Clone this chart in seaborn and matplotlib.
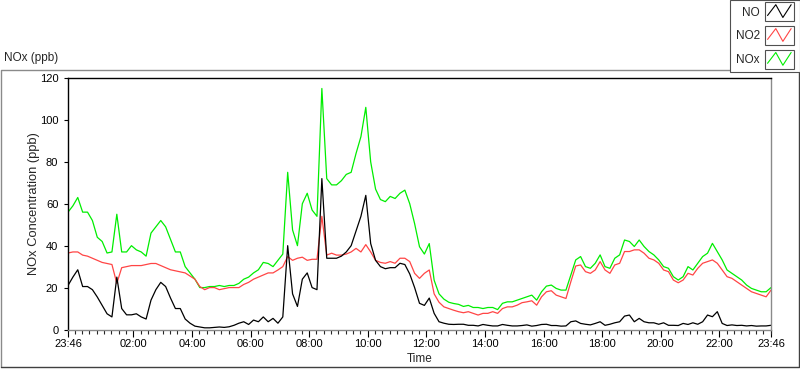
import numpy as np
import pandas as pd
import matplotlib
matplotlib.use('Agg')
import matplotlib.pyplot as plt
import matplotlib.dates as mdates
from matplotlib.patches import Rectangle
from matplotlib.lines import Line2D
from matplotlib.legend_handler import HandlerBase
import seaborn as sns

# readings every 10 min, starting 23:46
start_time = '2000-01-01 23:46'

no = [21, 25, 28.5, 20.5, 20.5, 19, 15.5, 11.5, 7.5, 6,
      25, 10, 7, 7, 7.5, 6, 5, 14, 19, 22.5,
      20.5, 15, 10, 10, 5, 3, 1.6, 1.2, 0.8, 0.8,
      1, 1.2, 1, 1.3, 2, 3, 3.7, 2.4, 4.5, 3.7,
      6, 3.7, 5.3, 3, 6, 40, 17, 11, 24, 27,
      20, 19, 72, 34, 34, 34, 35, 37, 40, 47,
      54, 64, 41, 33, 30, 29, 29.5, 29.5, 31.6, 31,
      26.5, 20, 12.5, 11.5, 15, 7.7, 3.7, 3, 2.5, 2.4,
      2.5, 2.5, 2, 2, 1.7, 2.4, 2, 1.7, 1.7, 2.4,
      2, 1.7, 1.7, 1.9, 2.2, 1.6, 1.9, 2.4, 2.5, 1.9,
      1.9, 1.6, 1.7, 3.7, 4.1, 2.9, 2.5, 2.2, 2.9, 3.7,
      2, 2.5, 3.2, 3.7, 6.4, 6.9, 3.7, 5.3, 3.7, 3.2,
      3.2, 2.5, 3.2, 2, 2, 1.9, 2.9, 2.4, 3.2, 2.5,
      3.7, 6.9, 6.1, 8.5, 2.9, 1.9, 2.2, 1.9, 2, 1.7,
      1.9, 1.6, 1.7, 1.7, 2]

no2 = [36.5, 37, 37, 35.5, 35, 34, 33, 32, 31.5, 31,
       22, 29.5, 30, 30.5, 30.5, 30.5, 31, 31.5, 31.5, 30.5,
       29.5, 28.5, 28, 27.5, 27, 25.5, 24, 20.5, 19, 20,
       20, 19, 19.5, 20, 20, 20, 21.5, 22.5, 24, 25,
       26, 27, 27, 28.4, 30, 34.8, 33, 34, 34.5, 33,
       33.5, 33.5, 54, 35.5, 36.4, 35.5, 35.5, 36, 37, 38.7,
       37, 40.5, 37, 33, 32, 31.6, 32.4, 31.6, 34, 34,
       32.4, 26.8, 24.4, 26.8, 28.4, 17, 13, 10.8, 10, 9.2,
       8.5, 8, 8.5, 7.7, 6.9, 7.7, 7.7, 8.5, 7.7, 10,
       10.8, 10.8, 11.6, 12.8, 13.2, 13.7, 11.6, 15.6, 18, 18.5,
       16.4, 15.6, 14.8, 22.8, 30.3, 30.8, 27.6, 26.8, 28.4, 32.4,
       28.4, 26.8, 30.8, 31.6, 37.2, 37.2, 38, 38, 36.4, 34,
       33.2, 31.6, 28.4, 27.6, 23.6, 22.3, 23.6, 26.8, 26, 29.2,
       31.6, 32.4, 33.2, 31.6, 28.4, 25.2, 24.4, 22.8, 21.2, 19.6,
       18, 17.2, 16.4, 15.6, 18.8]

nox = [56, 59, 63, 56, 56, 52, 44, 42, 36.5, 37,
       55, 37, 37, 40, 38, 37, 35, 46, 49, 52,
       49, 43, 37, 37, 30, 27, 24, 20, 20, 20.5,
       20.5, 21, 20.5, 21, 21, 22, 24, 25, 27, 28.5,
       32, 31.5, 30, 33, 36, 75, 47.5, 40, 60, 65,
       57, 54, 115, 72, 69, 69, 71, 74, 75, 84,
       92, 106, 80, 67, 62, 61, 63.5, 62.5, 65, 66.5,
       60, 50.5, 39.5, 36, 41, 23.5, 17, 14.5, 13, 12.4,
       12, 11, 11.5, 10.5, 10.5, 10, 10.5, 10.5, 9.5, 12.5,
       13.2, 13.2, 14, 14.8, 15.6, 16.4, 14, 18, 20.7, 21.2,
       19.6, 18.8, 18.8, 26, 33.2, 34.8, 30, 29.2, 31.6, 35.6,
       30, 29.2, 34, 35.6, 42.7, 42, 39.6, 42.7, 39.6, 37.2,
       35.6, 33.2, 30, 29.2, 25.2, 23.6, 25.2, 30, 28.4, 31.6,
       34.8, 36.4, 41.1, 37.2, 33.2, 28.4, 26.8, 25.2, 23.6, 21.2,
       19.6, 18.8, 18, 18, 20]

species = ['NO', 'NO2', 'NOx']
colors = {'NO': '#000000', 'NO2': '#ff4545', 'NOx': '#00ee00'}

times = pd.date_range(start_time, periods=len(no), freq='10min')
df = pd.DataFrame({'Time': times, 'NO': no, 'NO2': no2, 'NOx': nox})
long_df = df.melt(id_vars='Time', var_name='Species', value_name='ppb')

sns.set_style('ticks')
plt.rcParams['font.family'] = ['Liberation Sans', 'DejaVu Sans']
plt.rcParams['font.size'] = 8


class BoxedZigzag(HandlerBase):
    # little boxed zigzag icon like the LabVIEW plot legend
    def create_artists(self, legend, orig_handle, xdescent, ydescent,
                       width, height, fontsize, trans):
        x0, y0 = -xdescent, -ydescent - 3
        h = height + 6
        box = Rectangle((x0, y0), width, h, facecolor='white',
                        edgecolor='#505050', lw=0.8, transform=trans)
        zx = x0 + width * np.array([0.1, 0.38, 0.62, 0.9])
        zy = y0 + h * np.array([0.3, 0.85, 0.2, 0.85])
        zig = Line2D(zx, zy, color=orig_handle.get_color(), lw=0.8,
                     transform=trans)
        return [box, zig]


fig = plt.figure(figsize=(8, 3.69), dpi=100)
W, H = 800, 369
ax = fig.add_axes([68 / W, 1 - 329.5 / H, 703 / W, (329.5 - 78) / H])

sns.lineplot(data=long_df, x='Time', y='ppb', hue='Species',
             hue_order=['NOx', 'NO2', 'NO'], palette=colors,
             linewidth=0.9, ax=ax, legend=False)

ax.set_xlim(times[0], times[-1])
ax.set_ylim(0, 120)
ax.set_yticks(range(0, 121, 20))

major = [times[0]] + [pd.Timestamp('2000-01-02 %02d:00' % h) for h in range(2, 23, 2)] + [times[-1]]
ax.xaxis.set_major_locator(matplotlib.ticker.FixedLocator(mdates.date2num(major)))
ax.xaxis.set_major_formatter(mdates.DateFormatter('%H:%M'))
ax.xaxis.set_minor_locator(mdates.MinuteLocator(byminute=[0, 15, 30, 45]))

ax.tick_params(axis='x', which='major', length=5, width=0.8, pad=2, colors='black')
ax.tick_params(axis='x', which='minor', length=3, width=0.8)
ax.tick_params(axis='y', which='major', length=3, width=0.8, pad=4, colors='black')

for side in ['top', 'left']:
    ax.spines[side].set_color('black')
    ax.spines[side].set_linewidth(1.0)
for side in ['right', 'bottom']:
    ax.spines[side].set_color('#8a8a8a')
    ax.spines[side].set_linewidth(1.0)

ax.set_xlabel('Time', labelpad=3, fontsize=8.5)
ax.set_ylabel('NOx Concentration (ppb)', fontsize=9.3)
ax.yaxis.set_label_coords(-28 / 703, 0.5)

# outer panel frame
fig.add_artist(Line2D([0.5 / W, 0.5 / W, 799 / W], [1 - 367 / H, 1 - 69.5 / H, 1 - 69.5 / H],
                      color='#8a8a8a', lw=1, transform=fig.transFigure))
fig.add_artist(Line2D([0.5 / W, 799.2 / W, 799.2 / W], [1 - 367 / H, 1 - 367 / H, 1 - 69.5 / H],
                      color='#404040', lw=1, transform=fig.transFigure))
fig.text(4 / W, 1 - 58 / H, 'NOx (ppb)', ha='left', va='center', fontsize=8.5)

handles = [Line2D([], [], color=colors[s]) for s in species]
leg = fig.legend(handles, species, loc='upper right', bbox_to_anchor=(1, 1),
                 bbox_transform=fig.transFigure, borderaxespad=0,
                 markerfirst=False, handler_map={Line2D: BoxedZigzag()},
                 handlelength=2.5, handleheight=1.1, labelspacing=0.95,
                 handletextpad=0.4, borderpad=0.5, fancybox=False,
                 framealpha=1, edgecolor='#505050', fontsize=8.5)
leg.get_frame().set_linewidth(0.8)

fig.savefig('out.png', dpi=100)
